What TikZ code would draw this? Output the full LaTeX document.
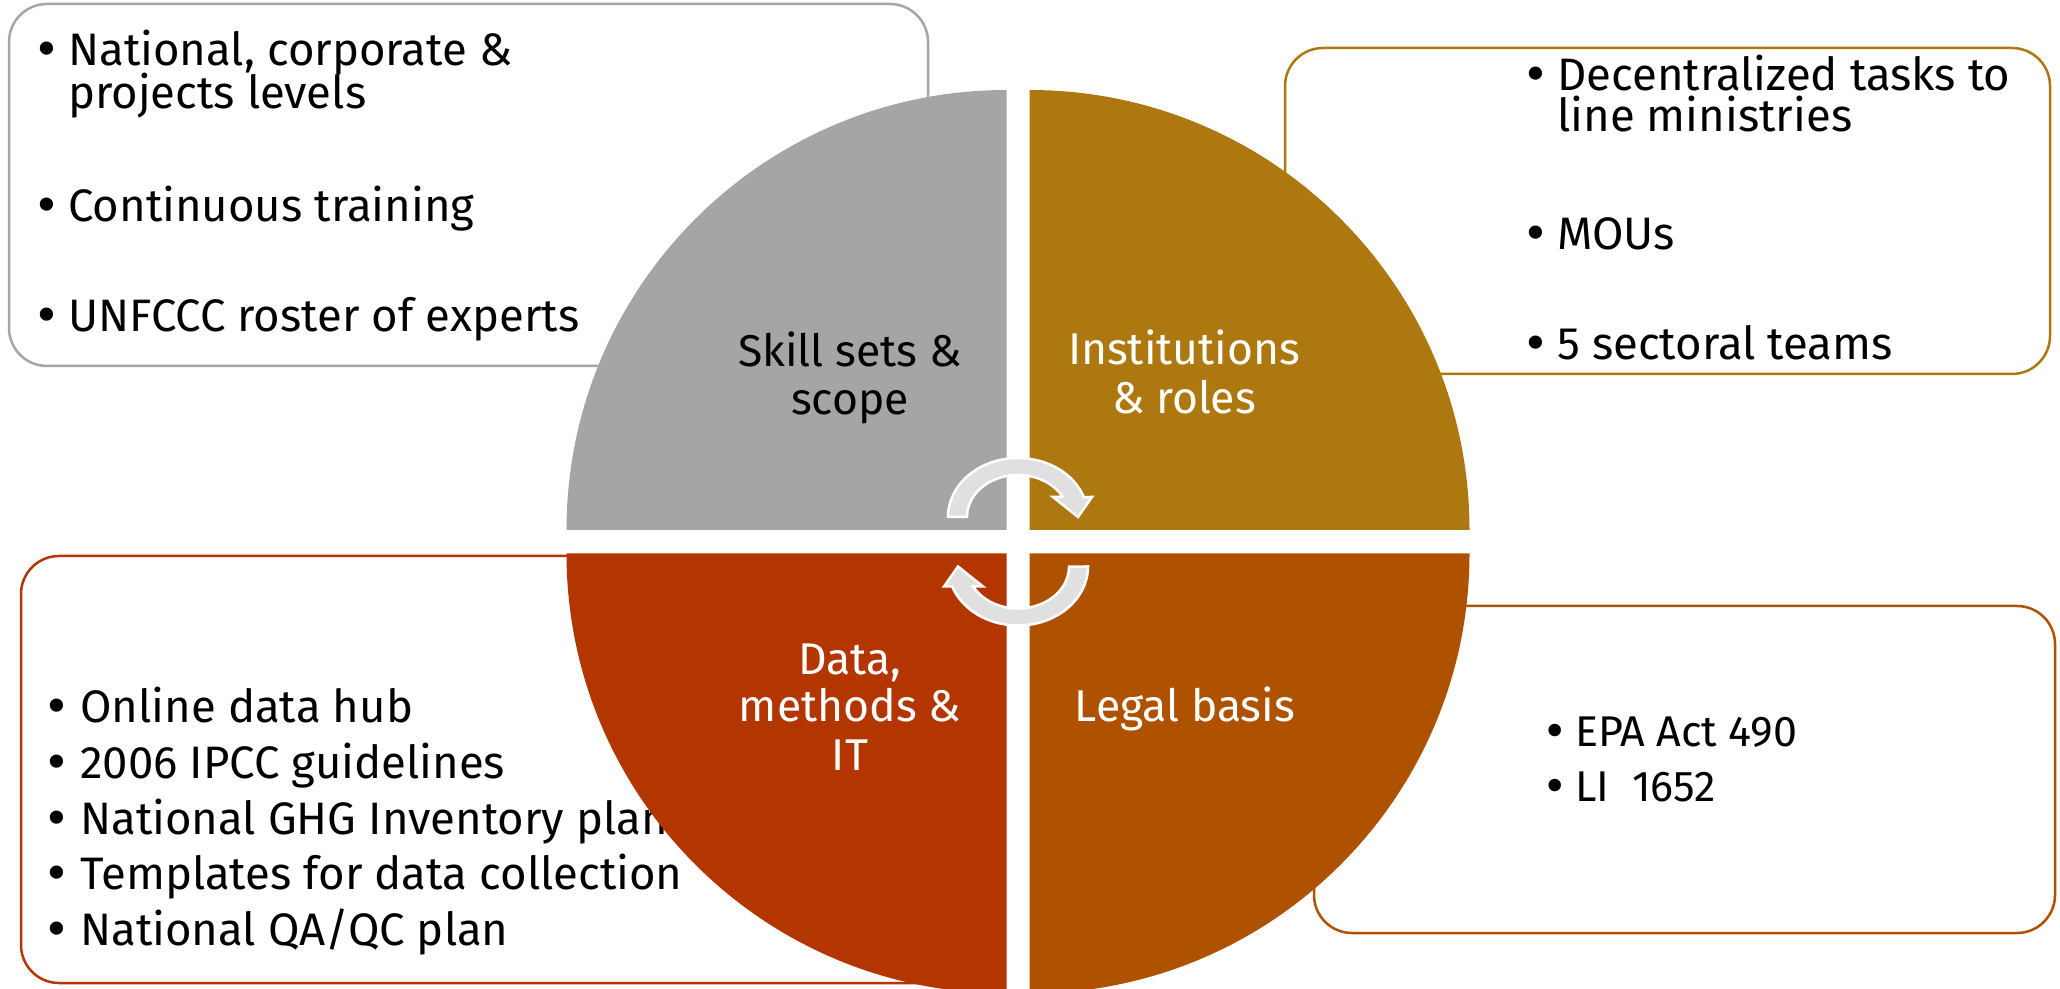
\documentclass[tikz,border=0pt]{standalone}
\usepackage{fontspec}
\setmainfont{Fira Sans}
\newfontfamily\bulletfont{DejaVu Sans}
\definecolor{skillgray}{HTML}{A5A5A5}
\definecolor{instgold}{HTML}{AD7810}
\definecolor{datared}{HTML}{B33600}
\definecolor{legalorange}{HTML}{AF5200}
\definecolor{arrowfill}{HTML}{E0E0E0}
\newcommand\itemfont{\fontsize{45.5}{52}\selectfont}
\newcommand\bigitemfont{\fontsize{43}{50}\selectfont}
\newcommand\labelfont{\fontsize{44.5}{50}\selectfont}
\newcommand\bulletmark{{\bulletfont •}}
\begin{document}
\begin{tikzpicture}[x=1pt,y=1pt,
  panel/.style={line width=2.5pt, fill=white, rounded corners=38},
  itm/.style={anchor=base west, inner sep=0pt, font=\itemfont, text=black},
  bul/.style={anchor=base, inner sep=0pt, font=\itemfont, text=black},
  lbl/.style={anchor=base, inner sep=0pt, font=\labelfont},
  cyclearrow/.pic={
    \path[fill=arrowfill, draw=white, line width=2.5pt, line join=miter]
      (-70,0) arc[start angle=180, end angle=19.8, x radius=70, y radius=59]
      -- (74,20) -- (60,0) -- (35,20) -- (44.8,20)
      arc[start angle=28.4, end angle=180, x radius=51, y radius=42]
      -- cycle;
  }]
\useasboundingbox (0,0) rectangle (2060,988);
\clip (0,0) rectangle (2060,988);

% text panels behind the cycle
\draw[panel, draw=skillgray]   (9,622)    rectangle (928,984);
\draw[panel, draw=instgold]    (1285,614) rectangle (2050,940);
\draw[panel, draw=datared]     (21,5)     rectangle (960,432);
\draw[panel, draw=legalorange] (1314,55)  rectangle (2055,382);

% skill sets panel
\node[bul] (sb1) at (47,922) {\bulletmark};
\node[itm] (s1a) at (68,922) {National, corporate \&};
\node[itm] (s1b) at (68,879) {projects levels};
\node[bul] (sb2) at (47,766) {\bulletmark};
\node[itm] (s2)  at (68,766) {Continuous training};
\node[bul] (sb3) at (47,656) {\bulletmark};
\node[itm] (s3)  at (68,656) {UNFCCC roster of experts};

% institutions panel
\node[bul] (ib1) at (1536,897) {\bulletmark};
\node[itm] (i1a) at (1557,897) {Decentralized tasks to};
\node[itm] (i1b) at (1557,856) {line ministries};
\node[bul] (ib2) at (1536,738) {\bulletmark};
\node[itm] (i2)  at (1557,738) {MOUs};
\node[bul] (ib3) at (1536,628) {\bulletmark};
\node[itm] (i3)  at (1557,628) {5 sectoral teams};

% data panel
\node[bul] (db1) at (57,265) {\bulletmark};
\node[itm] (d1)  at (80,265) {Online data hub};
\node[bul] (db2) at (57,210) {\bulletmark};
\node[itm] (d2)  at (80,210) {2006 IPCC guidelines};
\node[bul] (db3) at (57,154) {\bulletmark};
\node[itm] (d3)  at (80,154) {National GHG Inventory plan};
\node[bul] (db4) at (57,99)  {\bulletmark};
\node[itm] (d4)  at (80,99)  {Templates for data collection};
\node[bul] (db5) at (57,43)  {\bulletmark};
\node[itm] (d5)  at (80,43)  {National QA/QC plan};

% legal panel
\node[bul, font=\bigitemfont] (lb1) at (1555,241) {\bulletmark};
\node[itm, font=\bigitemfont] (l1)  at (1575,241) {EPA Act 490};
\node[bul, font=\bigitemfont] (lb2) at (1555,186) {\bulletmark};
\node[itm, font=\bigitemfont] (l2)  at (1575,186) {LI\ \ 1652};

% four quadrants of the cycle
\fill[skillgray]   (1006.5,458)   -- (566.5,458)
  arc[start angle=180, end angle=90, radius=440] -- cycle;
\fill[instgold]    (1029.5,458)   -- (1469.5,458)
  arc[start angle=0, end angle=90, radius=440] -- cycle;
\fill[datared]     (1006.5,434.5) -- (566.5,434.5)
  arc[start angle=180, end angle=270, radius=440] -- cycle;
\fill[legalorange] (1029.5,434.5) -- (1469.5,434.5)
  arc[start angle=0, end angle=-90, radius=440] -- cycle;

% quadrant titles
\node[lbl, text=black] (q1a) at (850,621) {Skill sets \&};
\node[lbl, text=black] (q1b) at (850,573) {scope};
\node[lbl, text=white] (q2a) at (1184,623) {Institutions};
\node[lbl, text=white] (q2b) at (1184,574) {\& roles};
\node[lbl, text=white] (q3a) at (850,313) {Data,};
\node[lbl, text=white] (q3b) at (850,266) {methods \&};
\node[lbl, text=white] (q3c) at (850,218) {IT};
\node[lbl, text=white] (q4)  at (1185,266) {Legal basis};

% circular arrows in the middle
\pic at (1018,471) {cyclearrow};
\pic[rotate=180] at (1018,421.5) {cyclearrow};
\end{tikzpicture}
\end{document}
